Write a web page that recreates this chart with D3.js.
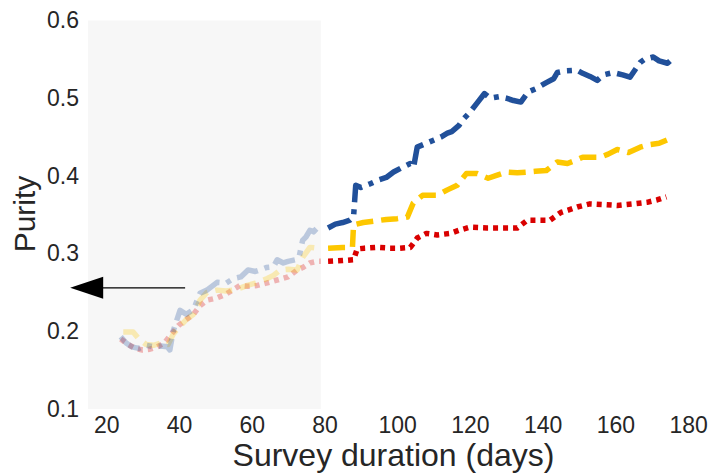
<!DOCTYPE html>
<html>
<head>
<meta charset="utf-8">
<script src="https://cdn.jsdelivr.net/npm/d3@7"></script>
<style>
  body { margin: 0; background: #fff; }
  text { font-family: "Liberation Sans", Arial, sans-serif; fill: #262626; }
</style>
</head>
<body>
<div id="chart"></div>
<script>
// data
var xTicks = [20, 40, 60, 80, 100, 120, 140, 160, 180];
var yTicks = [0.1, 0.2, 0.3, 0.4, 0.5, 0.6];
var shadeRange = [15, 79];
var arrowFrom = [41.7, 0.256], arrowTo = [10.1, 0.256];

var blueDays = [24, 25.5, 27, 29, 31, 33, 35, 36.8, 37.5, 38.4, 40.3, 42, 44, 45.8, 47.7, 50.5, 53, 55, 57, 59, 61, 62.3, 64, 66, 67, 68.7, 70, 72, 73, 74, 75, 76, 77, 78, 79,
  81, 83, 85, 87, 88, 88.6, 90, 92.6, 95, 97, 99, 101, 103.6, 104.5, 105.5, 108, 110, 112, 113.8, 115, 117, 118, 120, 122, 124, 125.6, 128, 130, 132, 134, 136, 138, 141, 143, 144, 146, 149.5, 151, 153, 155, 156.7, 159.4, 162, 164, 166.8, 168, 170.4, 172, 174.3, 175];
var blueVals = [0.193, 0.185, 0.18, 0.178, 0.182, 0.18, 0.181, 0.18, 0.176, 0.2, 0.227, 0.222, 0.228, 0.249, 0.253, 0.263, 0.262, 0.268, 0.27, 0.279, 0.277, 0.279, 0.282, 0.283, 0.292, 0.288, 0.29, 0.292, 0.295, 0.317, 0.322, 0.33, 0.328, 0.333, 0.331,
  0.333, 0.338, 0.34, 0.343, 0.347, 0.388, 0.385, 0.39, 0.395, 0.398, 0.405, 0.41, 0.416, 0.411, 0.437, 0.442, 0.446, 0.45, 0.455, 0.457, 0.465, 0.472, 0.482, 0.494, 0.506, 0.5, 0.502, 0.5, 0.497, 0.495, 0.508, 0.512, 0.52, 0.525, 0.533, 0.535, 0.536, 0.532, 0.528, 0.523, 0.53, 0.533, 0.53, 0.527, 0.546, 0.55, 0.553, 0.548, 0.545, 0.548];

var yellowDays = [24.7, 27.4, 29, 31, 33, 35, 37, 38.5, 40, 42, 44, 45.8, 47.7, 50.5, 53, 55, 57, 58.8, 61, 64.3, 66, 67.9, 70, 72.5, 74, 76, 78, 79,
  81, 85, 87.7, 88, 90.7, 94, 97, 100, 102.8, 104.4, 107, 111, 113.8, 116.5, 119, 122, 125, 127.5, 130, 133, 135.8, 138, 141, 144, 146.8, 149, 151, 155.8, 158, 160.5, 163.6, 166.8, 169, 172, 174, 176];
var yellowVals = [0.199, 0.199, 0.19, 0.183, 0.182, 0.185, 0.183, 0.197, 0.205, 0.215, 0.222, 0.24, 0.25, 0.253, 0.252, 0.253, 0.256, 0.259, 0.262, 0.268, 0.272, 0.279, 0.28, 0.279, 0.295, 0.308, 0.307, 0.307,
  0.307, 0.308, 0.308, 0.337, 0.34, 0.342, 0.344, 0.345, 0.347, 0.365, 0.375, 0.375, 0.382, 0.388, 0.403, 0.403, 0.397, 0.401, 0.405, 0.404, 0.405, 0.406, 0.407, 0.418, 0.416, 0.42, 0.424, 0.424, 0.428, 0.434, 0.43, 0.437, 0.44, 0.442, 0.446, 0.45];

var redDays = [24, 26, 28, 30, 32, 34, 36, 38, 40, 42, 44, 45.8, 47.7, 50.5, 53, 56.8, 59, 61.5, 64, 67, 70, 72.5, 74, 76, 78, 79,
  81, 85, 88, 89, 91, 94.5, 98, 100.8, 103.6, 105.5, 108, 111, 114.6, 117, 120, 124.7, 128, 133, 135.8, 139, 142, 145, 147, 149.5, 153, 157, 160.5, 165, 168.7, 171.4, 174];
var redVals = [0.19, 0.183, 0.178, 0.176, 0.177, 0.18, 0.185, 0.197, 0.208, 0.215, 0.222, 0.233, 0.24, 0.243, 0.248, 0.259, 0.258, 0.259, 0.262, 0.266, 0.27, 0.279, 0.282, 0.288, 0.29, 0.29,
  0.29, 0.291, 0.292, 0.306, 0.307, 0.308, 0.307, 0.307, 0.308, 0.32, 0.326, 0.324, 0.326, 0.33, 0.334, 0.333, 0.333, 0.333, 0.343, 0.343, 0.343, 0.353, 0.356, 0.36, 0.364, 0.363, 0.362, 0.364, 0.366, 0.369, 0.373];

var series = [
  {days: redDays, vals: redVals, color: "#d90000", dash: "5,5"},
  {days: yellowDays, vals: yellowVals, color: "#fdc700", dash: "17,8"},
  {days: blueDays, vals: blueVals, color: "#21509a", dash: "24,7,5,7"}
];

var margin = {top: 20.5, right: 15, bottom: 64, left: 88},
    width = 711 - margin.left - margin.right,
    height = 473 - margin.top - margin.bottom;

var svg = d3.select("#chart")
  .append("svg")
    .attr("width", 711)
    .attr("height", 473)
  .append("g")
    .attr("transform", "translate(" + margin.left + "," + margin.top + ")");

var x = d3.scaleLinear().domain([15, 15 + width / 3.6375]).range([0, width]);
var y = d3.scaleLinear().domain([0.1, 0.6]).range([height, 0]);

// shaded training period
svg.append("rect")
  .attr("x", x(shadeRange[0]))
  .attr("y", y(0.6))
  .attr("width", x(shadeRange[1]) - x(shadeRange[0]))
  .attr("height", y(0.1) - y(0.6))
  .attr("fill", "#f7f7f7");

// axes
var xAxis = svg.append("g")
  .attr("transform", "translate(0," + height + ")")
  .call(d3.axisBottom(x).tickValues(xTicks).tickSize(0).tickPadding(8).tickFormat(d3.format("d")));
var yAxis = svg.append("g")
  .call(d3.axisLeft(y).tickValues(yTicks).tickSize(0).tickPadding(9).tickFormat(d3.format(".1f")));
[xAxis, yAxis].forEach(function(a) {
  a.select(".domain").remove();
  a.selectAll("text").style("font-size", "23px").attr("fill", "#262626");
});

var line = d3.line()
  .x(function(d) { return x(d.day); })
  .y(function(d) { return y(d.val); });

series.forEach(function(s) {
  var pts = s.days.map(function(d, i) { return {day: d, val: s.vals[i]}; });
  var early = pts.filter(function(p) { return p.day <= 80; });
  var late = pts.filter(function(p) { return p.day >= 80; });
  svg.append("path").datum(early)
    .attr("fill", "none").attr("stroke", s.color).attr("stroke-width", 5.5)
    .attr("stroke-linejoin", "round")
    .attr("stroke-dasharray", s.dash).attr("opacity", 0.28)
    .attr("d", line);
  svg.append("path").datum(late)
    .attr("fill", "none").attr("stroke", s.color).attr("stroke-width", 5.5)
    .attr("stroke-linejoin", "round")
    .attr("stroke-dasharray", s.dash)
    .attr("d", line);
});

// arrow pointing left
var ay = y(arrowFrom[1]), tipX = x(arrowTo[0]);
svg.append("line")
  .attr("x1", x(arrowFrom[0])).attr("x2", tipX + 30)
  .attr("y1", ay).attr("y2", ay)
  .attr("stroke", "#000").attr("stroke-width", 1.3);
svg.append("path")
  .attr("d", "M" + tipX + "," + ay + "L" + (tipX + 33) + "," + (ay - 11) + "L" + (tipX + 33) + "," + (ay + 11) + "Z")
  .attr("fill", "#000");

// labels
svg.append("text")
  .attr("x", (711 / 2 + 38) - margin.left)
  .attr("y", 466 - margin.top)
  .attr("text-anchor", "middle")
  .style("font-size", "32px")
  .text("Survey duration (days)");

svg.append("text")
  .attr("transform", "translate(" + (35 - margin.left) + "," + (214 - margin.top) + ") rotate(-90)")
  .attr("text-anchor", "middle")
  .style("font-size", "30px")
  .text("Purity");
</script>
</body>
</html>
